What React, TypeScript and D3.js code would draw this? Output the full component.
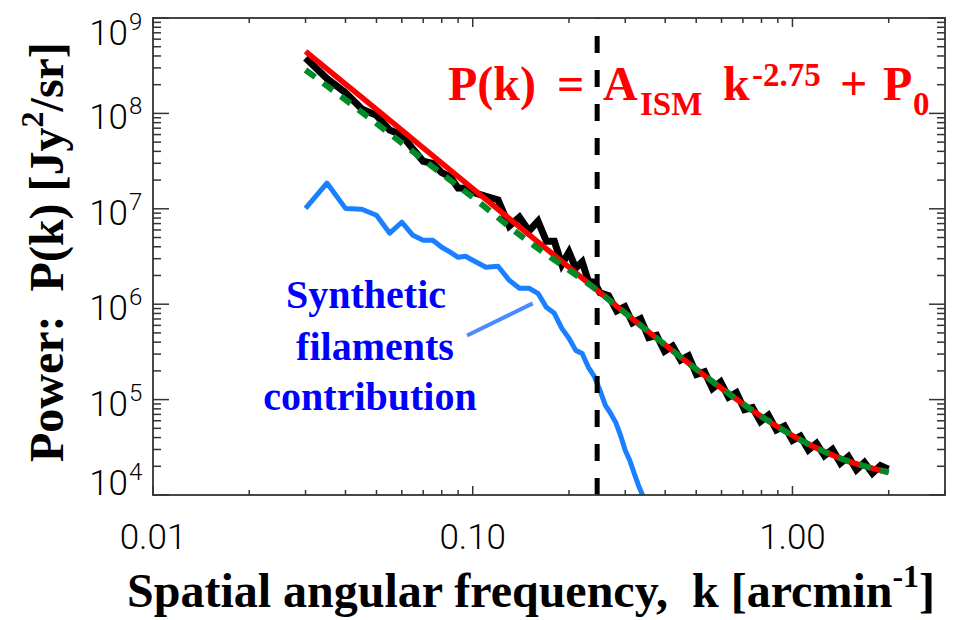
import React from 'react';
import * as d3 from 'd3';

// ---- data ----
const kTotal = [0.030, 0.035, 0.040, 0.045, 0.050, 0.055, 0.060, 0.065, 0.070, 0.075, 0.080, 0.085, 0.090, 0.095, 0.100,
  0.11, 0.12, 0.13, 0.14, 0.15, 0.16, 0.17, 0.18, 0.19, 0.20, 0.21, 0.22, 0.23, 0.24, 0.25,
  0.266, 0.282, 0.299, 0.316, 0.335, 0.355, 0.376, 0.398, 0.422, 0.447, 0.473, 0.501, 0.531, 0.562, 0.596, 0.631, 0.668,
  0.708, 0.750, 0.794, 0.841, 0.891, 0.944, 1.0, 1.059, 1.122, 1.189, 1.259, 1.334, 1.413, 1.496, 1.585, 1.679, 1.778, 1.884, 1.995];
const pTotal = [3.80e8, 2.32e8, 1.65e8, 1.11e8, 9.55e7, 6.70e7, 5.92e7, 4.24e7, 3.15e7, 2.99e7, 2.39e7, 2.17e7, 1.65e7, 1.64e7, 1.49e7,
  1.35e7, 1.24e7, 6.59e6, 8.15e6, 5.86e6, 7.43e6, 4.56e6, 4.57e6, 2.61e6, 3.52e6, 2.39e6, 2.78e6, 1.74e6, 1.70e6, 1.32e6,
  1.23e6, 8.53e5, 9.40e5, 6.40e5, 7.05e5, 4.48e5, 4.72e5, 3.21e5, 3.64e5, 2.60e5, 2.88e5, 1.84e5, 1.96e5, 1.31e5, 1.53e5, 1.06e5, 1.18e5,
  7.84e4, 8.25e4, 5.89e4, 6.85e4, 4.82e4, 5.27e4, 3.74e4, 4.14e4, 2.97e4, 3.48e4, 2.59e4, 3.00e4, 2.16e4, 2.53e4, 1.84e4, 2.19e4, 1.69e4, 2.03e4, 1.86e4];

const kFit = [0.03, 0.04, 0.05, 0.07, 0.1, 0.14, 0.2, 0.28, 0.4, 0.56, 0.8, 1.1, 1.5, 2.0];
const pFit = [4.47e8, 2.03e8, 1.10e8, 4.35e7, 1.63e7, 6.47e6, 2.44e6, 9.74e5, 3.74e5, 1.56e5, 6.66e4, 3.53e4, 2.25e4, 1.73e4];

const kFit2 = [0.03, 0.04, 0.05, 0.07, 0.1, 0.15, 0.2, 0.25, 0.28, 0.4, 0.56, 0.8, 1.1, 1.5, 2.0];
const pFit2 = [2.85e8, 1.39e8, 7.84e7, 3.28e7, 1.32e7, 4.49e6, 2.28e6, 1.33e6, 9.74e5, 3.74e5, 1.56e5, 6.66e4, 3.53e4, 2.25e4, 1.73e4];

const kFil = [0.030, 0.035, 0.040, 0.045, 0.050, 0.055, 0.060, 0.065, 0.070, 0.075, 0.080, 0.085, 0.090, 0.095, 0.100,
  0.11, 0.12, 0.13, 0.14, 0.15, 0.16, 0.17, 0.18, 0.19, 0.20, 0.21, 0.22, 0.23, 0.24, 0.25, 0.26, 0.27, 0.28, 0.29, 0.30,
  0.31, 0.32, 0.33, 0.34, 0.35];
const pFil = [1.01e7, 1.86e7, 1.01e7, 9.9e6, 8.57e6, 5.55e6, 7.23e6, 5.28e6, 4.68e6, 4.68e6, 3.95e6, 3.51e6, 3.10e6, 3.18e6, 2.89e6,
  2.44e6, 2.50e6, 1.78e6, 1.47e6, 1.47e6, 1.30e6, 9.27e5, 8.03e5, 5.58e5, 4.39e5, 3.28e5, 3.05e5, 2.18e5, 1.75e5, 1.25e5,
  8.69e4, 7.16e4, 5.77e4, 4.21e4, 2.93e4, 2.30e4, 1.68e4, 1.26e4, 9.9e3, 7.2e3];

const kCut = 0.245;
const pointerK = [0.096, 0.154];
const pointerP = [4.7e5, 1.02e6];

const xMajor = [0.01, 0.1, 1];
const xMajorLabels = ['0.01', '0.10', '1.00'];
const yMajorExp = [4, 5, 6, 7, 8, 9];

const serif = '"Liberation Serif", "Times New Roman", serif';
const sans = 'Roboto, "Liberation Sans", Arial, sans-serif';

export default function App() {
  const L = 153, R = 945, T = 18, B = 495;
  const x = d3.scaleLog().domain([0.01, 3]).range([L, R]);
  const y = d3.scaleLog().domain([1e4, 1e9]).range([B, T]);

  const mk = (ks: number[], ps: number[], curve: any) =>
    d3.line<number>().x((i) => x(ks[i])).y((i) => y(ps[i])).curve(curve)(ks.map((_, i) => i)) || '';

  const xt = x.ticks();
  const yt = y.ticks();
  const isPow10 = (v: number) => Math.abs(Math.log10(v) - Math.round(Math.log10(v))) < 1e-6;

  const axisColor = '#333';

  return (
    <svg width={954} height={620} style={{ position: 'absolute', left: 0, top: 0, display: 'block', background: '#fff' }}>
      <defs>
        <clipPath id="plot">
          <rect x={L} y={T} width={R - L} height={B - T} />
        </clipPath>
      </defs>
      <rect x={0} y={0} width={954} height={620} fill="#fff" />

      {/* curves */}
      <g clipPath="url(#plot)">
        <path d={mk(kFil, pFil, d3.curveLinear)} fill="none" stroke="#1a80ff" strokeWidth={5} strokeLinejoin="round" />
        <line x1={x(kCut)} x2={x(kCut)} y1={B} y2={T} stroke="#000" strokeWidth={5} strokeDasharray="17,17" />
        <path d={mk(kTotal, pTotal, d3.curveLinear)} fill="none" stroke="#000" strokeWidth={7} strokeLinejoin="miter" strokeMiterlimit={12} />
        <path d={mk(kFit, pFit, d3.curveMonotoneX)} fill="none" stroke="#ff0000" strokeWidth={5.5} />
        <path d={mk(kFit2, pFit2, d3.curveMonotoneX)} fill="none" stroke="#008a2a" strokeWidth={6} strokeDasharray="12,10" />
      </g>

      {/* frame */}
      <rect x={L} y={T} width={R - L} height={B - T} fill="none" stroke={axisColor} strokeWidth={1.8} />

      {/* x ticks */}
      {xt.map((v, i) => {
        const len = isPow10(v) ? 9 : 5;
        const px = x(v);
        if (px > R + 0.5) return null;
        return (
          <g key={'xt' + i}>
            <line x1={px} x2={px} y1={B} y2={B - len} stroke={axisColor} strokeWidth={1.5} />
            <line x1={px} x2={px} y1={T} y2={T + len} stroke={axisColor} strokeWidth={1.5} />
          </g>
        );
      })}
      {/* y ticks */}
      {yt.map((v, i) => {
        const len = isPow10(v) ? 16 : 8;
        const py = y(v);
        return (
          <g key={'yt' + i}>
            <line x1={L} x2={L + len} y1={py} y2={py} stroke={axisColor} strokeWidth={1.5} />
            <line x1={R} x2={R - len} y1={py} y2={py} stroke={axisColor} strokeWidth={1.5} />
          </g>
        );
      })}

      {/* x tick labels */}
      {xMajor.map((v, i) => (
        <text key={'xl' + i} x={x(v)} y={549} textAnchor="middle" fontFamily={sans} fontWeight={300} fontSize={35} fill="#000">
          {xMajorLabels[i]}
        </text>
      ))}
      {/* y tick labels */}
      {yMajorExp.map((e) => {
        const py = y(Math.pow(10, e));
        const dy = e === 9 ? 27 : e === 4 ? 0 : 16;
        return (
          <g key={'yl' + e}>
            <text x={128} y={py + dy} textAnchor="end" fontFamily={sans} fontWeight={300} fontSize={35} fill="#000">10</text>
            <text x={129} y={py + dy - 15} textAnchor="start" fontFamily={sans} fontWeight={300} fontSize={24} fill="#000">{e}</text>
          </g>
        );
      })}

      {/* axis titles */}
      <text x={127} y={607} fontFamily={serif} fontWeight="bold" fontSize={48} fill="#000">
        Spatial angular frequency,{'\u00a0\u00a0'}k [arcmin
        <tspan fontSize={32} dy={-20}>-1</tspan>
        <tspan dy={20}>]</tspan>
      </text>
      <text transform="translate(63,462) rotate(-90)" x={0} y={0} fontFamily={serif} fontWeight="bold" fontSize={48} fill="#000">
        Power:{'\u00a0\u00a0'}P(k) [Jy
        <tspan fontSize={32} dy={-20}>2</tspan>
        <tspan dy={20}>/sr]</tspan>
      </text>

      {/* equation */}
      <g fontFamily={serif} fontWeight="bold" fill="#ff0000">
        <text x={448} y={100} fontSize={48}>P(k)</text>
        <text x={557} y={100} fontSize={48}>=</text>
        <text x={603} y={100} fontSize={48}>A</text>
        <text x={640} y={115} fontSize={33}>ISM</text>
        <text x={723} y={100} fontSize={48}>k</text>
        <text x={752} y={86} fontSize={33}>-2.75</text>
        <text x={840} y={100} fontSize={48}>+</text>
        <text x={883} y={100} fontSize={48}>P</text>
        <text x={913} y={115} fontSize={33}>0</text>
      </g>

      {/* filament annotation */}
      <line x1={x(pointerK[0])} y1={y(pointerP[0])} x2={x(pointerK[1])} y2={y(pointerP[1])} stroke="#4a8cff" strokeWidth={4} />
      <g fontFamily={serif} fontWeight="bold" fontSize={40} fill="#0000ff" textAnchor="middle">
        <text x={366} y={308}>Synthetic</text>
        <text x={375} y={360}>filaments</text>
        <text x={370} y={410}>contribution</text>
      </g>
    </svg>
  );
}
